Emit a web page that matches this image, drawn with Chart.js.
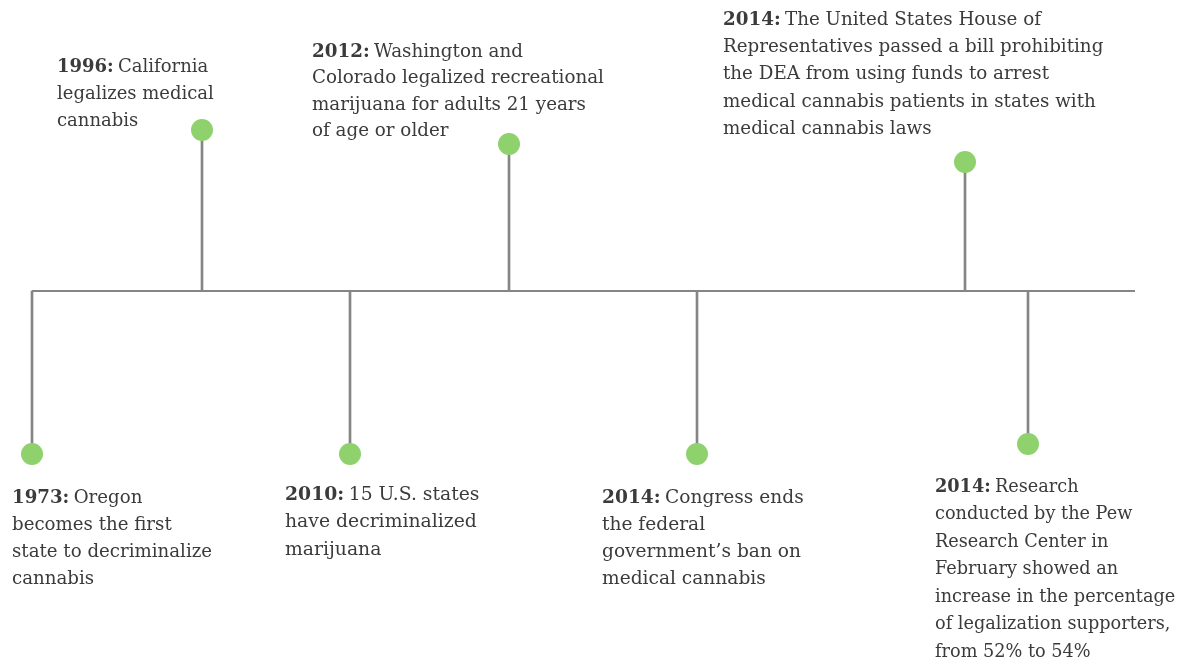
<!DOCTYPE html>
<html>
<head>
<meta charset="utf-8">
<script src="https://cdn.jsdelivr.net/npm/chart.js@4.4.1/dist/chart.umd.min.js"></script>
<style>
  html, body { margin: 0; padding: 0; background: #fff; }
  #wrap { position: relative; width: 1184px; height: 664px; }
</style>
</head>
<body>
<div id="wrap"><canvas id="chart"></canvas></div>
<script>
// timeline events, in the order they sit along the line
const years = ["1973", "1996", "2010", "2012", "2014", "2014", "2014"];
const descriptions = [
  ["Oregon", "becomes the first", "state to decriminalize", "cannabis"],
  ["California", "legalizes medical", "cannabis"],
  ["15 U.S. states", "have decriminalized", "marijuana"],
  ["Washington and", "Colorado legalized recreational", "marijuana for adults 21 years", "of age or older"],
  ["Congress ends", "the federal", "government\u2019s ban on", "medical cannabis"],
  ["The United States House of", "Representatives passed a bill prohibiting", "the DEA from using funds to arrest", "medical cannabis patients in states with", "medical cannabis laws"],
  ["Research", "conducted by the Pew", "Research Center in", "February showed an", "increase in the percentage", "of legalization supporters,", "from 52% to 54%"]
];
// position of each event along the timeline (timeline units)
const positions = [32, 202, 350, 509, 697, 965, 1028];
// stem length: positive = above the line, negative = below
const stems = [-163, 161, -163, 147, -163, 129, -153];
// extent of the timeline itself
const lineStart = 32;
const lineEnd = 1135;

// label placement relative to the dot (dx to text left, dy to first line middle)
const labelDx = [-20, -145, -65, -197, -95, -242, -93];
const labelDy = [44, -63, 41, -92, 44, -142, 43];
const lineHeights = [27, 27, 27.5, 26.5, 27, 27.3, 27.5];
const fontSizes = [18.2, 18, 18.8, 18.3, 18.6, 18.3, 17.7];

const GREEN = "#8fd16c";
const GREY = "#858585";
const TEXT = "#3b3b3b";
const FONT = "'DejaVu Serif', serif";

const labelPlugin = {
  id: "timelineLabels",
  afterDatasetsDraw(chart) {
    const { ctx, scales } = chart;
    ctx.save();
    ctx.textBaseline = "middle";
    ctx.fillStyle = TEXT;
    years.forEach((yr, i) => {
      const px = scales.x.getPixelForValue(positions[i]);
      const py = scales.y.getPixelForValue(stems[i]);
      const size = fontSizes[i];
      const x0 = px + labelDx[i];
      let y = py + labelDy[i];
      descriptions[i].forEach((txt, j) => {
        let x = x0;
        if (j === 0) {
          ctx.font = "bold " + size + "px " + FONT;
          const head = yr + ": ";
          ctx.fillText(head, x, y);
          x += ctx.measureText(head).width - 2;
        }
        ctx.font = size + "px " + FONT;
        ctx.fillText(txt, x, y);
        y += lineHeights[i];
      });
    });
    ctx.restore();
  }
};

new Chart(document.getElementById("chart"), {
  data: {
    datasets: [
      {
        type: "scatter",
        label: "events",
        data: positions.map((p, i) => ({ x: p, y: stems[i] })),
        pointRadius: 11,
        pointHoverRadius: 11,
        pointBackgroundColor: GREEN,
        pointBorderWidth: 0,
        order: 0
      },
      {
        type: "bar",
        label: "stems",
        data: positions.map((p, i) => ({ x: p, y: [0, stems[i]] })),
        backgroundColor: GREY,
        barThickness: 2,
        order: 1
      },
      {
        type: "line",
        label: "timeline",
        data: [{ x: lineStart, y: 0 }, { x: lineEnd, y: 0 }],
        borderColor: GREY,
        borderWidth: 2,
        pointRadius: 0,
        order: 2
      }
    ]
  },
  options: {
    responsive: true,
    maintainAspectRatio: false,
    animation: false,
    layout: { padding: 0, autoPadding: false },
    plugins: {
      legend: { display: false },
      tooltip: { enabled: false }
    },
    scales: {
      x: { type: "linear", min: 0, max: 1184, offset: false, display: false },
      y: { type: "linear", min: -373, max: 291, display: false }
    }
  },
  plugins: [labelPlugin]
});
</script>
</body>
</html>
